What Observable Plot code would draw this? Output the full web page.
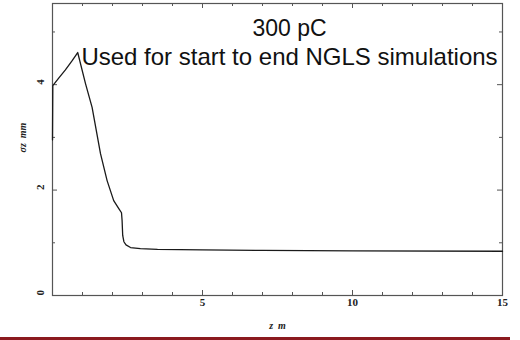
<!DOCTYPE html>
<html>
<head>
<meta charset="utf-8">
<script src="https://cdn.jsdelivr.net/npm/d3@7"></script>
<script src="https://cdn.jsdelivr.net/npm/@observablehq/plot@0.6"></script>
<style>
  html, body { margin: 0; padding: 0; background: #fff; overflow: hidden; }
  #bar { width: 510px; height: 3px; background: #8b1a1f; }
</style>
</head>
<body>
<div id="chart"></div>
<div id="bar"></div>
<script>
// Curve: z (m) and sigma_z (mm)
const zValues = [0, 0.01, 0.2, 0.43, 0.65, 0.84, 1.1, 1.32, 1.6, 1.82, 2.04, 2.21, 2.30, 2.32, 2.34, 2.38, 2.45, 2.6, 2.93, 3.5, 5, 7, 10, 15];
const sigmaValues = [2.95, 3.98, 4.12, 4.28, 4.45, 4.61, 4.02, 3.57, 2.69, 2.18, 1.80, 1.65, 1.57, 1.42, 1.14, 1.02, 0.96, 0.91, 0.89, 0.875, 0.865, 0.855, 0.845, 0.84];

const xTickLabels = [5, 10, 15];
const yTickLabels = [0, 2, 4];
const xMajorTicks = [0, 5, 10, 15];
const xMinorTicks = d3.range(0, 16).filter(d => d % 5 !== 0);
const yMajorTicks = [0, 2, 4];
const yMinorTicks = [1, 3, 5];

const titleLine1 = "300 pC";
const titleLine2 = "Used for start to end NGLS simulations";
const xLabel = "z  m";
const yLabel = "σz  mm";

const data = zValues.map((z, i) => ({z, s: sigmaValues[i]}));

const W = 520, H = 337;
const mL = 52, mR = 18, mT = 3, mB = 42;
const innerW = W - mL - mR, innerH = H - mT - mB;
const frameColor = "#555";
const tickFont = {fontFamily: "Liberation Serif", fontWeight: "bold", fontSize: 11, fill: "#222"};
const labelFont = {fontFamily: "Liberation Serif", fontStyle: "italic", fontWeight: "bold", fontSize: 10, fill: "#222"};

const chart = Plot.plot({
  width: W, height: H,
  marginLeft: mL, marginRight: mR, marginTop: mT, marginBottom: mB,
  x: {domain: [0, 15], axis: null},
  y: {domain: [0, 5.54], axis: null},
  marks: [
    Plot.frame({stroke: frameColor, strokeWidth: 1.2}),
    // bottom ticks (inward)
    Plot.tickX(xMinorTicks, {x: d => d, insetTop: innerH - 3, stroke: frameColor}),
    Plot.tickX(xMajorTicks, {x: d => d, insetTop: innerH - 5, stroke: frameColor}),
    // top ticks (inward)
    Plot.tickX(xMinorTicks, {x: d => d, insetBottom: innerH - 3, stroke: frameColor}),
    Plot.tickX(xMajorTicks, {x: d => d, insetBottom: innerH - 5, stroke: frameColor}),
    // left ticks
    Plot.tickY(yMinorTicks, {y: d => d, insetRight: innerW - 3, stroke: frameColor}),
    Plot.tickY(yMajorTicks, {y: d => d, insetRight: innerW - 5, stroke: frameColor}),
    // right ticks
    Plot.tickY(yMinorTicks, {y: d => d, insetLeft: innerW - 3, stroke: frameColor}),
    Plot.tickY(yMajorTicks, {y: d => d, insetLeft: innerW - 5, stroke: frameColor}),
    // tick labels
    Plot.text(xTickLabels, {x: d => d, text: d => String(d), frameAnchor: "bottom", dy: 10, ...tickFont}),
    Plot.text(yTickLabels, {y: d => d, text: d => String(d), frameAnchor: "left", dx: -12, rotate: -90, ...tickFont}),
    // axis labels
    Plot.text([xLabel], {text: d => d, frameAnchor: "bottom", dy: 33, ...labelFont}),
    Plot.text([yLabel], {text: d => d, frameAnchor: "left", dx: -30, dy: 3, rotate: -90, ...labelFont}),
    // curve
    Plot.line(data, {x: "z", y: "s", stroke: "#1a1a1a", strokeWidth: 1.3, curve: "linear"}),
    // annotations
    Plot.text([titleLine1], {text: d => d, frameAnchor: "top", dx: 12, dy: 16, fontFamily: "Liberation Sans", fontSize: 23, fill: "#111"}),
    Plot.text([titleLine2], {text: d => d, frameAnchor: "top", dx: 12, dy: 44, fontFamily: "Liberation Sans", fontSize: 24, fill: "#111"})
  ]
});
document.getElementById("chart").appendChild(chart);
</script>
</body>
</html>
